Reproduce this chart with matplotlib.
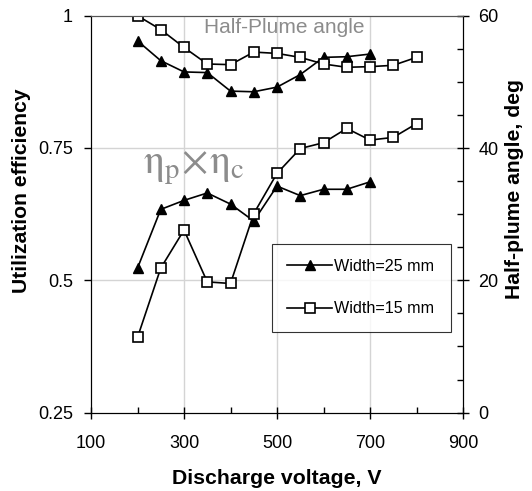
import matplotlib
matplotlib.use("Agg")
import matplotlib.pyplot as plt
from matplotlib.ticker import MultipleLocator

plt.rcParams['font.family'] = ['Liberation Sans', 'DejaVu Sans']
plt.rcParams['mathtext.fontset'] = 'stix'

# discharge voltage, V
volts_25 = [200, 250, 300, 350, 400, 450, 500, 550, 600, 650, 700]
volts_15 = [200, 250, 300, 350, 400, 450, 500, 550, 600, 650, 700, 750, 800]

# utilization efficiency (eta_p x eta_c)
eff_25 = [0.523, 0.634, 0.651, 0.665, 0.644, 0.612, 0.678, 0.660, 0.672, 0.672, 0.686]
eff_15 = [0.392, 0.523, 0.595, 0.497, 0.494, 0.626, 0.702, 0.749, 0.760, 0.787, 0.765, 0.770, 0.796]

# half-plume angle, deg
angle_25 = [56.2, 53.2, 51.5, 51.4, 48.6, 48.5, 49.2, 51.1, 53.7, 53.8, 54.2]
angle_15 = [60.0, 57.9, 55.2, 52.7, 52.6, 54.5, 54.3, 53.7, 52.7, 52.2, 52.3, 52.5, 53.7]

x_ticks = [100, 300, 500, 700, 900]
x_minor = [200, 400, 600, 800]
eff_ticks = [0.25, 0.5, 0.75, 1]
eff_labels = ['0.25', '0.5', '0.75', '1']

fig = plt.figure(figsize=(5.32, 4.91), dpi=100)
ax = fig.add_axes([91 / 532, 1 - 412.6 / 491, 372 / 532, 396.9 / 491])
ax2 = ax.twinx()

tri = dict(color='black', lw=1.2, marker='^', ms=7.5, mfc='black', mec='black')
sq = dict(color='black', lw=1.2, marker='s', ms=7, mfc='white', mec='black', mew=1.2)

l25, = ax.plot(volts_25, eff_25, **tri)
l15, = ax.plot(volts_15, eff_15, **sq)
ax2.plot(volts_25, angle_25, **tri)
ax2.plot(volts_15, angle_15, **sq)

ax.set_xlim(100, 900)
ax.set_ylim(0.25, 1)
ax2.set_ylim(0, 60)

ax.set_xticks(x_ticks)
ax.set_xticks(x_minor, minor=True)
ax.set_yticks(eff_ticks)
ax.set_yticklabels(eff_labels)
ax2.yaxis.set_major_locator(MultipleLocator(20))
ax2.yaxis.set_minor_locator(MultipleLocator(5))

ax.tick_params(axis='x', which='major', direction='inout', length=8, width=1, labelsize=13, pad=12)
ax.tick_params(axis='x', which='minor', direction='in', length=4, width=1)
ax.tick_params(axis='y', which='major', direction='out', length=5, width=1, labelsize=13, pad=8)
ax2.tick_params(axis='y', which='major', direction='inout', length=8, width=1, labelsize=13, pad=7)
ax2.tick_params(axis='y', which='minor', direction='in', length=4, width=1)

for a in (ax, ax2):
    a.spines['top'].set_color('#555555')

# light grid
for v in [300, 500, 700]:
    ax.axvline(v, color='#d4d4d4', lw=1, zorder=0)
for e in [0.5, 0.75]:
    ax.axhline(e, color='#d4d4d4', lw=1, zorder=0)

ax.set_xlabel('Discharge voltage, V', fontsize=15.3, fontweight='bold')
ax.xaxis.set_label_coords(0.5, -0.143)
ax.set_ylabel('Utilization efficiency', fontsize=15.2, fontweight='bold')
ax.yaxis.set_label_coords(-0.161, 0.56)
ax2.set_ylabel('Half-plume angle, deg', fontsize=15.2, fontweight='bold')
ax2.yaxis.set_label_coords(1.113, 0.563)

ax.text(515, 0.977, 'Half-Plume angle', fontsize=15, color='#8c8c8c', ha='center', va='center')
ax.text(321, 0.712, r'$\mathrm{\eta_p\!\times\!\eta_c}$', fontsize=29.5, color='#8c8c8c',
        ha='center', va='center')

leg = ax2.legend([l25, l15], ['Width=25 mm', 'Width=15 mm'], loc='lower left',
                 bbox_to_anchor=(272 / 532, 1 - 331.7 / 491, 179 / 532, 89 / 491),
                 bbox_transform=fig.transFigure, mode='expand',
                 fontsize=11.6, frameon=True, fancybox=False, edgecolor='black',
                 handlelength=2.8, handletextpad=0.1, labelspacing=1.7, borderpad=0.95,
                 borderaxespad=0)
leg.get_frame().set_linewidth(0.8)

fig.savefig('out.png', dpi=100)
